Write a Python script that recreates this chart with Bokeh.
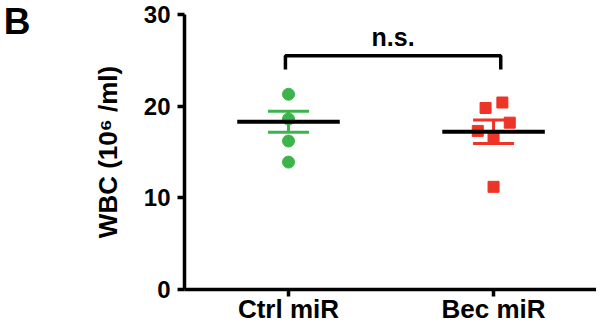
from bokeh.plotting import figure
from bokeh.models import FixedTicker, LinearAxis, ColumnDataSource, Range1d
from bokeh.embed import file_html
from bokeh.resources import INLINE
from bokeh.core.properties import value

categories = ["Ctrl miR", "Bec miR"]
ctrl_values = [21.3, 18.6, 16.2, 13.9]
ctrl_jitter = [0.0, 0.0, 0.0, 0.0]
bec_values = [19.8, 20.4, 18.2, 17.3, 16.5, 11.2]
bec_jitter = [-0.039, 0.043, 0.079, -0.077, 0.0, 0.0]
means = [18.3, 17.2]
sems = [1.15, 1.28]
y_ticks = [0, 10, 20, 30]
sig_label = "n.s."
ylabel = "WBC (10\u2076 /ml)"
panel = "B"

GREEN = "#3cb44b"
RED = "#ee3327"
FONT = "Liberation Sans"

X0, X1 = 0.4928, 2.502
p = figure(width=596, height=326, output_backend="svg", toolbar_location=None,
           x_range=Range1d(X0, X1), y_range=Range1d(0, 30),
           min_border_left=180, min_border_right=0, min_border_top=14, min_border_bottom=37)
p.outline_line_color = None
p.xgrid.visible = False
p.ygrid.visible = False
p.background_fill_color = "white"
p.border_fill_color = "white"

# axes
for ax in (p.xaxis[0], p.yaxis[0]):
    ax.axis_line_width = 3.5
    ax.major_tick_line_width = 3.5
    ax.major_tick_in = 0
    ax.major_tick_out = 7
    ax.minor_tick_line_color = None
    ax.major_label_text_font = FONT
    ax.major_label_text_font_style = "bold"
    ax.major_label_text_color = "black"
    ax.axis_line_color = "black"
    ax.major_tick_line_color = "black"

p.xaxis.ticker = FixedTicker(ticks=[1, 2])
p.xaxis.major_label_overrides = {i + 1: c for i, c in enumerate(categories)}
p.xaxis.major_label_text_font_size = "26px"
p.xaxis.major_label_standoff = -3
p.yaxis.ticker = FixedTicker(ticks=y_ticks)
p.yaxis.major_label_text_font_size = "24px"
p.yaxis.major_label_standoff = 7
p.yaxis.axis_label = ylabel
p.yaxis.axis_label_text_font = FONT
p.yaxis.axis_label_text_font_style = "bold"
p.yaxis.axis_label_text_font_size = "26px"
p.yaxis.axis_label_text_color = "black"
p.yaxis.axis_label_standoff = 18

# panel letter as an outer, line-less left axis with a single labelled tick
panel_y = 29.3
panel_axis = LinearAxis(ticker=FixedTicker(ticks=[panel_y]),
                        major_label_overrides={panel_y: panel},
                        axis_line_color=None, major_tick_line_color=None,
                        minor_tick_line_color=None,
                        major_label_text_font=FONT, major_label_text_font_style="bold",
                        major_label_text_font_size="37px", major_label_text_color="black",
                        major_label_standoff=53)
p.add_layout(panel_axis, "left")

# points
ctrl_src = ColumnDataSource(dict(x=[1 + j for j in ctrl_jitter], y=ctrl_values))
bec_src = ColumnDataSource(dict(x=[2 + j for j in bec_jitter], y=bec_values))

# error bars (SEM)
xs = [1, 2]
colors = [GREEN, RED]
cap = 0.1
tops = [m + s for m, s in zip(means, sems)]
bots = [m - s for m, s in zip(means, sems)]
p.segment(x0=xs, y0=bots, x1=xs, y1=tops, line_color=colors, line_width=3)
p.segment(x0=[x - cap for x in xs] * 2, x1=[x + cap for x in xs] * 2,
          y0=tops + bots, y1=tops + bots, line_color=colors * 2, line_width=3)

p.scatter("x", "y", source=ctrl_src, marker="circle", size=12, color=GREEN)
p.scatter("x", "y", source=bec_src, marker="square", size=11, color=RED)

# mean lines
half = 0.25
p.segment(x0=[x - half for x in xs], x1=[x + half for x in xs], y0=means, y1=means,
          line_color="black", line_width=4)

# significance bracket
b_left, b_right = xs[0] - 0.015, xs[1] + 0.035
b_top, b_leg = 25.5, 24.0
p.line(x=[b_left, b_left, b_right, b_right], y=[b_leg, b_top, b_top, b_leg],
       line_color="black", line_width=3.5)
p.text(x=[(b_left + b_right) / 2], y=[b_top + 0.54], text=[sig_label],
       text_font=value(FONT), text_font_style="bold", text_font_size="25px",
       text_align="center", text_baseline="bottom", text_color="black")

open("out.html", "w").write(file_html(p, INLINE))
